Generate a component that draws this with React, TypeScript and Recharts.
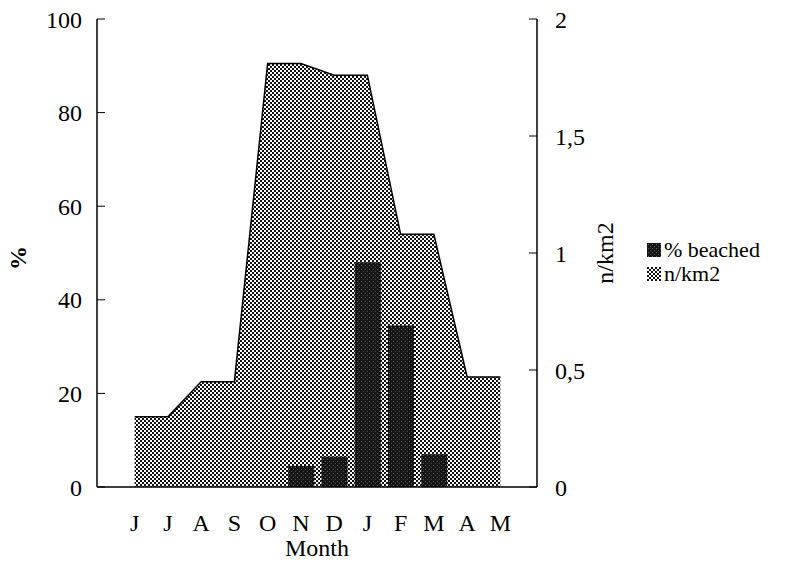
import { ComposedChart, Area, Bar, XAxis, YAxis, Legend } from 'recharts';

const months = ['Jun', 'Jul', 'Aug', 'Sep', 'Oct', 'Nov', 'Dec', 'Jan', 'Feb', 'Mar', 'Apr', 'May'];
const monthLabels = ['J', 'J', 'A', 'S', 'O', 'N', 'D', 'J', 'F', 'M', 'A', 'M'];
const beached = [null, null, null, null, null, 4.5, 6.5, 48, 34.5, 7, null, null];
const density = [0.3, 0.3, 0.45, 0.45, 1.81, 1.81, 1.76, 1.76, 1.08, 1.08, 0.47, 0.47];
const leftTicks = [0, 20, 40, 60, 80, 100];
const rightTicks = [0, 0.5, 1, 1.5, 2];

const data = months.map((m, i) => ({ month: m, beached: beached[i], density: density[i] }));

const font = '"Liberation Serif", "Times New Roman", serif';
const tickStyle = { fontSize: 24, fill: '#000', fontFamily: font };

function LegendBox() {
  const items = [
    { label: '% beached', fill: 'url(#barDots)' },
    { label: 'n/km2', fill: 'url(#areaDots)' },
  ];
  return (
    <div style={{ fontFamily: font, fontSize: 22, color: '#000', lineHeight: '24px' }}>
      {items.map((it) => (
        <div key={it.label} style={{ display: 'flex', alignItems: 'center', height: 24 }}>
          <svg width={14} height={14} style={{ marginRight: 3 }}>
            <rect x={0} y={0} width={14} height={14} fill={it.fill} />
          </svg>
          <span>{it.label}</span>
        </div>
      ))}
    </div>
  );
}

export default function App() {
  return (
    <div style={{ position: 'absolute', left: 0, top: 0, width: 810, height: 564, background: '#fff' }}>
      <ComposedChart width={810} height={564} data={data} margin={{ top: 19, right: 213, bottom: 0, left: 0 }}>
        <defs>
          <pattern id="areaDots" width={4} height={4} patternUnits="userSpaceOnUse">
            <rect x={0} y={0} width={4} height={4} fill="#fff" />
            <rect x={0} y={0} width={2} height={2} fill="#111" />
            <rect x={2} y={2} width={2} height={2} fill="#111" />
          </pattern>
          <pattern id="barDots" width={4} height={4} patternUnits="userSpaceOnUse">
            <rect x={0} y={0} width={4} height={4} fill="#141414" />
            <rect x={1} y={1} width={1} height={1} fill="#666" />
            <rect x={3} y={3} width={1} height={1} fill="#555" />
          </pattern>
        </defs>
        <XAxis
          dataKey="month"
          height={77}
          padding={{ left: 21, right: 20 }}
          tickLine={false}
          tickMargin={21}
          axisLine={{ stroke: '#000', strokeWidth: 1.5 }}
          tick={tickStyle}
          tickFormatter={(v, i) => monthLabels[i]}
          interval={0}
          label={{ value: 'Month', position: 'insideBottom', offset: 8, fontSize: 24, fill: '#000', fontFamily: font }}
        />
        <XAxis xAxisId="top" dataKey="month" orientation="top" height={0} tick={false} tickLine={false} axisLine={{ stroke: '#000', strokeWidth: 1.5 }} />
        <YAxis
          yAxisId="left"
          width={97}
          domain={[0, 100]}
          ticks={leftTicks}
          tickSize={-8}
          tickMargin={23}
          tickLine={{ stroke: '#000' }}
          axisLine={{ stroke: '#000', strokeWidth: 1.5 }}
          tick={tickStyle}
          label={{
            content: () => (
              <text x={18} y={258} dy="0.35em" transform="rotate(-90 18 258)" textAnchor="middle" fontSize={24} fontWeight="bold" fontFamily={font} fill="#000">
                %
              </text>
            ),
          }}
        />
        <YAxis
          yAxisId="right"
          orientation="right"
          width={60}
          domain={[0, 2]}
          ticks={rightTicks}
          tickSize={-8}
          tickMargin={26}
          tickLine={{ stroke: '#000' }}
          axisLine={{ stroke: '#000', strokeWidth: 1.5 }}
          tick={{ ...tickStyle, textAnchor: 'start' }}
          tickFormatter={(v) => String(v).replace('.', ',')}
          label={{
            content: () => (
              <text x={605} y={253} dy="0.35em" transform="rotate(-90 605 253)" textAnchor="middle" fontSize={24} fontFamily={font} fill="#000">
                n/km2
              </text>
            ),
          }}
        />
        <Area
          yAxisId="right"
          type="linear"
          dataKey="density"
          name="n/km2"
          stroke="#000"
          strokeWidth={1.5}
          fill="url(#areaDots)"
          fillOpacity={1}
          isAnimationActive={false}
        />
        <Bar yAxisId="left" dataKey="beached" name="% beached" barSize={26} fill="url(#barDots)" isAnimationActive={false} />
        <Legend
          layout="vertical"
          align="center"
          verticalAlign="middle"
          content={() => <LegendBox />}
          wrapperStyle={{ position: 'absolute', left: 647, top: 238, width: 163 }}
        />
      </ComposedChart>
    </div>
  );
}
